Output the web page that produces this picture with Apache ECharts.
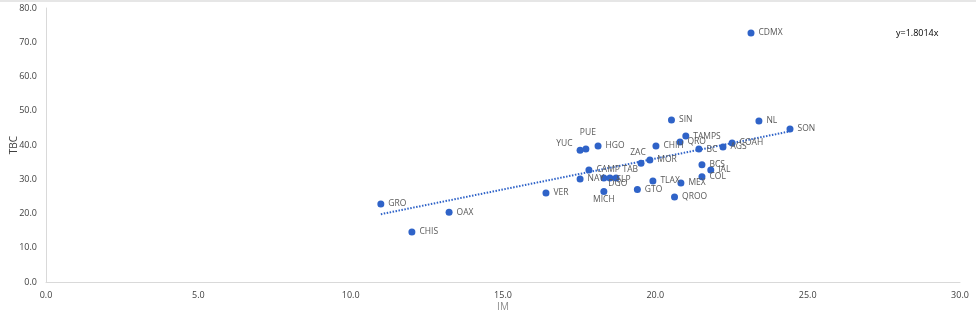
<!DOCTYPE html>
<html>
<head>
<meta charset="utf-8">
<script src="https://cdn.jsdelivr.net/npm/echarts@6/dist/echarts.min.js"></script>
<style>
html,body{margin:0;padding:0;background:#fff;}
#c{width:976px;height:313px;}
</style>
</head>
<body>
<div id="c"></div>
<script>
// ---- data ----
const states = ['GRO','CHIS','OAX','VER','YUC','PUE','HGO','NAY','CAMP','DGO','SLP','TAB','MICH','GTO','TLAX','ZAC','MOR','CHIH','QRO','SIN','TAMPS','BC','AGS','COAH','NL','SON','BCS','JAL','COL','MEX','QROO','CDMX'];
const imValues = [10.99,12.01,13.23,16.41,17.53,17.72,18.12,17.53,17.82,18.31,18.51,18.71,18.31,19.41,19.92,19.53,19.82,20.02,20.81,20.53,21.00,21.43,22.22,22.52,23.40,24.42,21.53,21.82,21.53,20.84,20.63,23.14];
const tbcValues = [22.8,14.6,20.4,26.0,38.5,38.8,39.7,30.1,32.7,30.4,30.4,30.4,26.4,27.0,29.5,34.7,35.6,39.7,40.9,47.3,42.6,38.8,39.4,40.6,47.0,44.7,34.2,32.7,30.7,28.9,24.8,72.7];
const trendSlope = 1.8014;
const xTicks = [0,5,10,15,20,25,30];
const yTicks = [0,10,20,30,40,50,60,70,80];

// ---- label placement (style only) ----
const labelPlace = {
  YUC:{position:'left', offset:[0,-7]},
  PUE:{position:'top', offset:[2,-5]},
  ZAC:{position:'top', offset:[-3,1]},
  TAB:{position:'right', offset:[-1,-8]},
  DGO:{position:'right', offset:[-3,6]},
  SLP:{position:'right', offset:[-1,2]},
  MICH:{position:'bottom', offset:[0,-4]}
};

const pts = states.map((s,i)=>{
  const item = {name:s, value:[imValues[i], tbcValues[i]]};
  if (labelPlace[s]) item.label = Object.assign({show:true}, labelPlace[s]);
  return item;
});
const xMinData = Math.min(...imValues), xMaxData = Math.max(...imValues);
const trend = [[xMinData, trendSlope*xMinData],[xMaxData, trendSlope*xMaxData]];

const FONT = '"Open Sans", "Noto Sans", sans-serif';
const chart = echarts.init(document.getElementById('c'));
chart.setOption({
  animation:false,
  backgroundColor:'#fff',
  textStyle:{fontFamily:FONT},
  grid:{left:46, right:16, top:8, bottom:31, containLabel:false, outerBoundsMode:'none'},
  xAxis:{
    type:'value', min:xTicks[0], max:xTicks[xTicks.length-1], interval:5,
    name:'IM', nameLocation:'middle', nameGap:20, nameMoveOverlap:false,
    nameTextStyle:{color:'#8c8c8c', fontSize:10, fontFamily:FONT},
    axisLine:{show:true, lineStyle:{color:'#d9d9d9', width:1}},
    axisTick:{show:false},
    splitLine:{show:false},
    axisLabel:{color:'#404040', fontSize:9, margin:9, formatter:v=>v.toFixed(1)}
  },
  yAxis:{
    type:'value', min:yTicks[0], max:yTicks[yTicks.length-1], interval:10,
    name:'TBC', nameLocation:'middle', nameGap:27, nameRotate:90, nameMoveOverlap:false,
    nameTextStyle:{color:'#404040', fontSize:10, fontFamily:FONT},
    axisLine:{show:true, lineStyle:{color:'#d9d9d9', width:1}},
    axisTick:{show:false},
    splitLine:{show:false},
    axisLabel:{color:'#404040', fontSize:9, margin:9, formatter:v=>v.toFixed(1)}
  },
  graphic:[
    {type:'line', shape:{x1:0,y1:1,x2:976,y2:1}, style:{stroke:'#e6e6e6', lineWidth:2}},
    {type:'text', left:896, top:29, style:{text:'y=1.8014x', fill:'#000', font:'9px '+FONT}}
  ],
  series:[
    {
      type:'line', data:trend, symbol:'none', silent:true,
      lineStyle:{color:'#2F63C8', width:2, type:[1.5,1.5]}, z:1
    },
    {
      type:'scatter', data:pts, symbolSize:7, z:3,
      itemStyle:{color:'#2F63C8', opacity:1},
      label:{show:true, position:'right', distance:4, formatter:'{b}', color:'#595959', fontSize:8.5, fontFamily:FONT}
    }
  ]
});
</script>
</body>
</html>
